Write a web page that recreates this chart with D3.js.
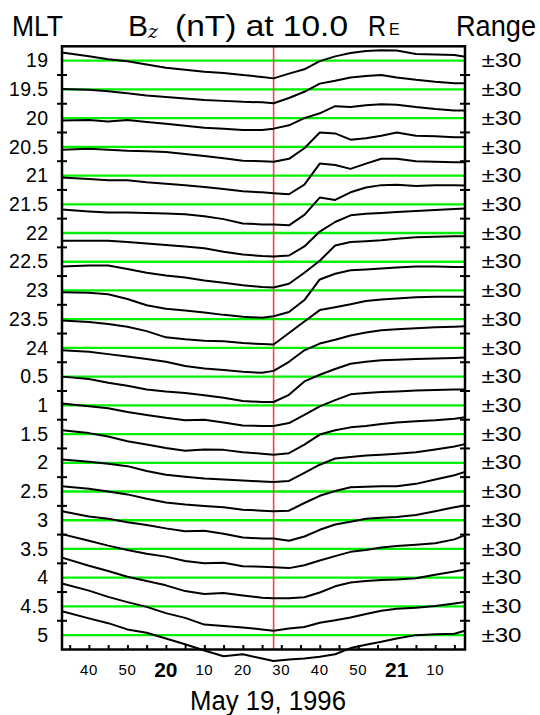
<!DOCTYPE html>
<html><head><meta charset="utf-8">
<script src="https://cdn.jsdelivr.net/npm/d3@7"></script>
<style>body{margin:0;background:#fff} svg{display:block}</style>
</head><body>
<script>
// ---- data ----
const mlt = ["19","19.5","20","20.5","21","21.5","22","22.5","23","23.5","24","0.5","1","1.5","2","2.5","3","3.5","4","4.5","5"];
const rangeLabels = ["±30","±30","±30","±30","±30","±30","±30","±30","±30","±30","±30","±30","±30","±30","±30","±30","±30","±30","±30","±30","±30"];
// minutes after 19:00 UT
const tMin = [33,40,45,50,55,60,65,70,75,80,85,88,92,96,100,104,108,112,116,120,125,130,135,137.75];
const onsetMin = 88;
const timeTicks = [35,40,45,50,55,60,65,70,75,80,85,90,95,100,105,110,115,120,125,130,135];
const timeLabelAt = [40,50,60,70,80,90,100,110,120,130];
const timeLabels = ["40","50","20","10","20","30","40","50","21","10"];
const timeLabelBold = [false,false,true,false,false,false,false,false,true,false];

// Bz (nT) per MLT
const bz_19   = [17,9,3,-1,-8,-15,-19,-23,-26,-30,-34,-37,-27,-18,-1,9,16,20,22,21,14,13,12,8];
const bz_19_5 = [1,-1,-4,-8,-13,-16,-19,-22,-24,-26,-27,-29,-18,-5,12,18,25,28,30,25,20,16,13,13];
const bz_20   = [-5,-4,-7,-4,-8,-12,-16,-20,-22,-25,-25,-22,-15,0,10,25,23,27,29,28,23,19,16,16];
const bz_20_5 = [-6,-4,-6,-8,-9,-11,-15,-19,-24,-29,-30,-31,-25,-3,30,28,15,18,23,30,23,22,20,20];
const bz_21   = [-4,-7,-10,-10,-14,-17,-20,-24,-28,-33,-35,-37,-39,-19,25,22,14,25,35,35,30,29,28,28];
const bz_21_5 = [-11,-15,-17,-17,-18,-19,-21,-25,-31,-40,-42,-42,-44,-22,14,9,25,35,40,41,38,40,40,39];
const bz_22   = [-16,-16,-16,-19,-22,-25,-28,-32,-39,-45,-48,-49,-47,-28,3,23,37,40,42,44,46,48,50,51];
const bz_22_5 = [-10,-8,-8,-15,-23,-29,-33,-39,-44,-49,-53,-54,-46,-23,2,34,41,43,45,48,51,52,53,53];
const bz_23   = [-4,-5,-8,-18,-31,-38,-42,-46,-51,-55,-57,-54,-45,-20,23,35,42,44,46,48,50,50,49,49];
const bz_23_5 = [-3,-6,-10,-16,-25,-38,-42,-45,-46,-50,-52,-53,-29,-5,19,25,31,38,41,43,46,47,47,47];
const bz_24   = [-5,-8,-13,-18,-23,-29,-38,-43,-46,-50,-52,-48,-29,-5,9,17,26,32,37,39,41,43,44,45];
const bz_0_5  = [0,-5,-13,-19,-27,-31,-34,-39,-44,-51,-53,-53,-38,-10,4,16,27,31,34,35,37,38,39,40];
const bz_1    = [4,-2,-6,-14,-20,-26,-31,-30,-36,-42,-43,-43,-37,-20,-2,11,23,26,28,29,31,32,33,33];
const bz_1_5  = [8,2,-5,-15,-22,-29,-35,-32,-33,-38,-41,-43,-40,-22,-1,8,14,17,21,24,27,29,32,35];
const bz_2    = [7,2,-2,-7,-17,-25,-29,-33,-35,-37,-39,-40,-38,-21,-4,9,12,15,17,19,22,28,34,39];
const bz_2_5  = [11,6,0,-6,-15,-23,-27,-30,-33,-38,-40,-41,-40,-24,-9,1,9,10,11,11,16,25,34,41];
const bz_3    = [19,8,3,-4,-10,-17,-23,-22,-28,-36,-38,-38,-43,-34,-20,-9,-3,3,5,7,11,19,27,31];
const bz_3_5  = [31,17,7,-2,-10,-16,-25,-30,-29,-36,-37,-38,-40,-34,-24,-15,-6,-2,3,6,9,12,20,29];
const bz_4    = [42,25,14,2,-7,-16,-28,-34,-32,-37,-42,-43,-43,-41,-31,-18,-10,-7,-5,-4,-1,6,13,17];
const bz_4_5  = [48,33,20,9,-1,-14,-24,-38,-41,-44,-48,-51,-46,-43,-34,-29,-23,-16,-9,-5,-3,1,6,9];
const bz_5    = [50,35,25,12,5,-7,-19,-32,-44,-40,-49,-54,-51,-49,-45,-40,-27,-20,-14,-7,0,2,3,9];
const series = [bz_19,bz_19_5,bz_20,bz_20_5,bz_21,bz_21_5,bz_22,bz_22_5,bz_23,bz_23_5,bz_24,
                bz_0_5,bz_1,bz_1_5,bz_2,bz_2_5,bz_3,bz_3_5,bz_4,bz_4_5,bz_5];

// ---- drawing ----
const W = 540, H = 715;
const font = "'Liberation Sans', Arial, Helvetica, sans-serif";
const svg = d3.select("body").append("svg").attr("width", W).attr("height", H)
  .style("font-family", font);

const x = d3.scaleLinear().domain([33, 137.75]).range([62, 465]);
const row = d3.scaleLinear().domain([-0.5, mlt.length - 0.5]).range([46.3, 649.5]);
const band = row(1) - row(0);
const v = d3.scaleLinear().domain([-30, 30]).range([band / 2, -band / 2]);

// green zero lines
svg.append("g").selectAll("line").data(mlt).join("line")
  .attr("x1", x.range()[0]).attr("x2", x.range()[1])
  .attr("y1", (d, i) => row(i)).attr("y2", (d, i) => row(i))
  .attr("stroke", "#00f000").attr("stroke-width", 2.3);

// onset line
svg.append("line")
  .attr("x1", x(onsetMin)).attr("x2", x(onsetMin))
  .attr("y1", row.range()[0]).attr("y2", row.range()[1])
  .attr("stroke", "#f0484c").attr("stroke-width", 1.6);

// curves
series.forEach((s, i) => {
  const line = d3.line().x((d, j) => x(tMin[j])).y(d => row(i) + v(d));
  svg.append("path").attr("d", line(s))
    .attr("fill", "none").attr("stroke", "#000").attr("stroke-width", 2)
    .attr("stroke-linejoin", "round");
});

// frame
svg.append("rect")
  .attr("x", x.range()[0]).attr("y", row.range()[0])
  .attr("width", x.range()[1] - x.range()[0]).attr("height", row.range()[1] - row.range()[0])
  .attr("fill", "none").attr("stroke", "#000").attr("stroke-width", 2.5);

// side ticks (band boundaries)
const bounds = d3.range(0.5, mlt.length - 1, 1);
[x.range()[0], x.range()[1]].forEach(px => {
  svg.append("g").selectAll("line").data(bounds).join("line")
    .attr("x1", px - 5).attr("x2", px + 5)
    .attr("y1", d => row(d)).attr("y2", d => row(d))
    .attr("stroke", "#000").attr("stroke-width", 2);
});

// bottom ticks
const ax = svg.append("g").attr("transform", `translate(0,${row.range()[1]})`)
  .call(d3.axisBottom(x).tickValues(timeTicks).tickSize(-4.5).tickFormat(""));
ax.select(".domain").remove();
ax.selectAll(".tick line").attr("stroke-width", 2);

// bottom labels
svg.append("g").selectAll("text").data(timeLabels).join("text")
  .attr("x", (d, i) => x(timeLabelAt[i]))
  .attr("y", (d, i) => timeLabelBold[i] ? 677.3 : 675)
  .attr("text-anchor", "middle")
  .attr("font-size", (d, i) => timeLabelBold[i] ? 21 : 15)
  .attr("font-weight", (d, i) => timeLabelBold[i] ? "bold" : "normal")
  .attr("letter-spacing", (d, i) => timeLabelBold[i] ? 0 : 0.6)
  .text(d => d);

svg.append("text").attr("x", 268).attr("y", 710).attr("text-anchor", "middle")
  .attr("font-size", 27).attr("textLength", 156).attr("lengthAdjust", "spacingAndGlyphs")
  .text("May 19, 1996");

// left labels
svg.append("g").selectAll("text").data(mlt).join("text")
  .attr("x", 48.5).attr("y", (d, i) => row(i) + 6.7)
  .attr("text-anchor", "end").attr("font-size", 19.5).attr("letter-spacing", 0.4)
  .text(d => d);

// right labels
svg.append("g").selectAll("text").data(rangeLabels).join("text")
  .attr("x", 481.5).attr("y", (d, i) => row(i) + 6.7)
  .attr("font-size", 19.5).attr("textLength", 40).attr("lengthAdjust", "spacingAndGlyphs")
  .text(d => d);

// headers
svg.append("text").attr("x", 12).attr("y", 35.5).attr("font-size", 30)
  .attr("textLength", 51).attr("lengthAdjust", "spacingAndGlyphs").text("MLT");
svg.append("text").attr("x", 456).attr("y", 35.5).attr("font-size", 29)
  .attr("textLength", 80).attr("lengthAdjust", "spacingAndGlyphs").text("Range");

// title pieces
svg.append("text").attr("x", 128).attr("y", 35.5).attr("font-size", 30).text("B");
svg.append("text").attr("x", 148).attr("y", 37.5).attr("font-size", 19)
  .attr("font-style", "italic").attr("font-family", "'DejaVu Serif', 'Liberation Serif', serif").text("z");
svg.append("text").attr("x", 175).attr("y", 35.5).attr("font-size", 30)
  .attr("textLength", 173).attr("lengthAdjust", "spacingAndGlyphs").text("(nT) at 10.0");
svg.append("text").attr("x", 368).attr("y", 35.5).attr("font-size", 30)
  .attr("textLength", 18).attr("lengthAdjust", "spacingAndGlyphs").text("R");
svg.append("text").attr("x", 389).attr("y", 35).attr("font-size", 16).text("E");
</script>
</body></html>
